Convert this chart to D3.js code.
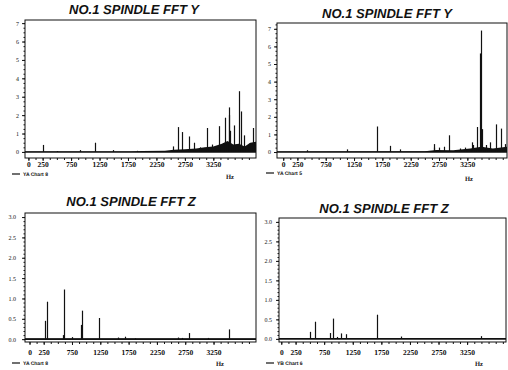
<!DOCTYPE html>
<html>
<head>
<meta charset="utf-8">
<script src="https://cdn.jsdelivr.net/npm/d3@7"></script>
<style>
  body { margin: 0; background: #fff; }
  svg { display: block; }
  text { text-rendering: geometricPrecision; }
</style>
</head>
<body>
<svg width="508" height="370"></svg>
<script>
// tick labels
const xTicks = [0, 250, 750, 1250, 1750, 2250, 2750, 3250];
const yTicksY = [0, 1, 2, 3, 4, 5, 6, 7];
const yTicksZ = [0, 0.5, 1, 1.5, 2, 2.5, 3];

const titles = ["NO.1 SPINDLE FFT Y", "NO.1 SPINDLE FFT Y", "NO.1 SPINDLE FFT Z", "NO.1 SPINDLE FFT Z"];
const legendNames = ["YA Chart 8", "YA Chart 5", "YA Chart 8", "YB Chart 6"];

// spectral lines [Hz, amplitude]
const peaksTL = [
  [252, 0.38], [498, 0.05], [908, 0.1], [1172, 0.5], [1489, 0.1], [1912, 0.06],
  [2540, 0.3], [2621, 1.35], [2699, 1.08], [2827, 0.84], [2903, 0.5], [3021, 0.25],
  [3139, 1.3], [3227, 0.4], [3343, 1.4], [3461, 1.86], [3519, 2.42], [3532, 2.0],
  [3550, 1.15], [3607, 1.44], [3708, 3.3], [3730, 2.2], [3783, 0.9], [3871, 0.45],
  [3940, 1.3]
];
const peaksTR = [
  [423, 0.1], [1122, 0.15], [1647, 1.45], [1881, 0.35], [2056, 0.15], [2656, 0.25],
  [2668, 0.45], [2755, 0.25], [2843, 0.3], [2918, 0.95], [3122, 0.2], [3210, 0.25],
  [3337, 0.55], [3355, 0.4], [3413, 1.42], [3470, 5.6], [3490, 6.9], [3512, 1.3],
  [3587, 0.4], [3647, 0.55], [3762, 1.57], [3850, 1.33], [3914, 0.45]
];
const peaksBL = [
  [280, 0.45], [301, 0.92], [590, 0.1], [613, 1.22], [745, 0.05], [910, 0.35],
  [922, 0.7], [1234, 0.52], [1566, 0.04], [1690, 0.06], [1867, 0.02], [2629, 0.04],
  [2700, 0.03], [2824, 0.15], [3144, 0.03], [3516, 0.24]
];
const peaksBR = [
  [505, 0.18], [593, 0.44], [855, 0.15], [907, 0.52], [977, 0.05], [1047, 0.14],
  [1135, 0.12], [1677, 0.62], [2096, 0.06], [3495, 0.07]
];

// noise floor envelopes [Hz, amplitude]
const floorTL = [
  [-60, 0.03], [1800, 0.03], [2000, 0.05], [2400, 0.06], [2550, 0.12], [2750, 0.15],
  [2950, 0.18], [3100, 0.25], [3250, 0.3], [3400, 0.45], [3500, 0.6], [3600, 0.4],
  [3700, 0.45], [3800, 0.3], [3900, 0.5], [4000, 0.55]
];
const floorTR = [
  [-110, 0.03], [2500, 0.05], [2700, 0.12], [3000, 0.1], [3300, 0.2], [3500, 0.3],
  [3700, 0.2], [3950, 0.3]
];
const floorBL = [[-80, 0.02], [4000, 0.02]];
const floorBR = [[-40, 0.02], [3930, 0.02]];

const svg = d3.select("svg");
const ink = "#111";

// panel placement
const panels = [
  { peaks: peaksTL, floor: floorTL, yTicks: yTicksY, fmt: d3.format("d"),
    x0: 25, x1: 256, yTop: 20, yBot: 158, xDom: [-60, 4000], yDom: [-0.33, 7.17],
    title: [134, 14], legendY: 174, hz: [230, 179], xPad: 1, yPad: 3, minorY: 0.25 },
  { peaks: peaksTR, floor: floorTR, yTicks: yTicksY, fmt: d3.format("d"),
    x0: 277, x1: 507, yTop: 23, yBot: 158, xDom: [-110, 3950], yDom: [-0.34, 7.33],
    title: [387, 18], legendY: 173, hz: [469, 181], xPad: 1, yPad: 3, minorY: 0.25 },
  { peaks: peaksBL, floor: floorBL, yTicks: yTicksZ, fmt: d3.format(".1f"),
    x0: 25, x1: 256, yTop: 213, yBot: 342, xDom: [-80, 4000], yDom: [-0.07, 3.1],
    title: [131, 206], legendY: 363, hz: [220, 366], xPad: 5, yPad: 6, minorY: 0.1 },
  { peaks: peaksBR, floor: floorBR, yTicks: yTicksZ, fmt: d3.format(".1f"),
    x0: 279, x1: 506, yTop: 218, yBot: 342, xDom: [-40, 3930], yDom: [-0.08, 3.1],
    title: [384, 213], legendY: 363, hz: [479, 366], xPad: 5, yPad: 4, minorY: 0.1 }
];

panels.forEach((p, i) => {
  const x = d3.scaleLinear().domain(p.xDom).range([p.x0, p.x1]);
  const y = d3.scaleLinear().domain(p.yDom).range([p.yBot, p.yTop]);
  const g = svg.append("g");

  // title
  g.append("text")
    .attr("x", p.title[0]).attr("y", p.title[1])
    .attr("text-anchor", "middle")
    .attr("font-family", "'Liberation Sans', Arial, sans-serif")
    .attr("font-size", 13).attr("font-weight", "bold").attr("font-style", "italic")
    .attr("fill", ink)
    .text(titles[i]);

  // noise floor
  g.append("path")
    .datum(p.floor)
    .attr("fill", ink)
    .attr("d", d3.area().x((d) => x(d[0])).y0(y(0)).y1((d) => y(d[1])));

  // baseline of the spectrum
  g.append("line")
    .attr("x1", p.x0).attr("x2", p.x1)
    .attr("y1", y(0)).attr("y2", y(0))
    .attr("stroke", ink).attr("stroke-width", 1.5);

  // spectral lines
  g.selectAll("line.peak")
    .data(p.peaks)
    .enter()
    .append("line")
    .attr("class", "peak")
    .attr("x1", (d) => Math.round(x(d[0])) + 0.5)
    .attr("x2", (d) => Math.round(x(d[0])) + 0.5)
    .attr("y1", y(0))
    .attr("y2", (d) => y(d[1]))
    .attr("stroke", ink).attr("stroke-width", 1.2);

  // frame
  g.append("rect")
    .attr("x", p.x0).attr("y", p.yTop)
    .attr("width", p.x1 - p.x0).attr("height", p.yBot - p.yTop)
    .attr("fill", "none").attr("stroke", ink).attr("stroke-width", 1);

  // minor ticks
  const minorX = d3.range(0, p.xDom[1], 125);
  g.append("g")
    .attr("transform", `translate(0,${p.yBot})`)
    .call(d3.axisBottom(x).tickValues(minorX).tickSize(2).tickFormat(""))
    .call((a) => a.select(".domain").remove())
    .call((a) => a.selectAll("line").attr("stroke", ink));
  const minorY = d3.range(0, p.yDom[1], p.minorY);
  g.append("g")
    .attr("transform", `translate(${p.x0},0)`)
    .call(d3.axisLeft(y).tickValues(minorY).tickSize(1.5).tickFormat(""))
    .call((a) => a.select(".domain").remove())
    .call((a) => a.selectAll("line").attr("stroke", ink));

  // x axis
  g.append("g")
    .attr("transform", `translate(0,${p.yBot})`)
    .call(d3.axisBottom(x).tickValues(xTicks).tickSize(3).tickPadding(p.xPad).tickFormat(d3.format("d")))
    .call((a) => a.select(".domain").remove())
    .call((a) => a.selectAll("line").attr("stroke", ink))
    .call((a) => a.selectAll("text")
      .attr("font-family", "'Liberation Serif', serif")
      .attr("font-size", 7.5).attr("font-weight", "bold").attr("fill", ink));

  // y axis
  g.append("g")
    .attr("transform", `translate(${p.x0},0)`)
    .call(d3.axisLeft(y).tickValues(p.yTicks).tickSize(3).tickPadding(p.yPad).tickFormat(p.fmt))
    .call((a) => a.select(".domain").remove())
    .call((a) => a.selectAll("line").attr("stroke", ink))
    .call((a) => a.selectAll("text")
      .attr("font-family", "'Liberation Serif', serif")
      .attr("font-size", 6).attr("fill", ink));

  // legend
  const lx = i % 2 === 0 ? 12 : 266;
  g.append("line")
    .attr("x1", lx).attr("x2", lx + 8)
    .attr("y1", p.legendY).attr("y2", p.legendY)
    .attr("stroke", ink).attr("stroke-width", 1.2);
  g.append("text")
    .attr("x", lx + 11).attr("y", p.legendY + 2)
    .attr("font-family", "'Liberation Sans', Arial, sans-serif")
    .attr("font-size", 5).attr("font-weight", "bold").attr("fill", ink)
    .text(legendNames[i]);

  // unit
  g.append("text")
    .attr("x", p.hz[0]).attr("y", p.hz[1])
    .attr("text-anchor", "middle")
    .attr("font-family", "'Liberation Serif', serif")
    .attr("font-size", 6.5).attr("font-weight", "bold").attr("fill", ink)
    .text("Hz");
});
</script>
</body>
</html>
